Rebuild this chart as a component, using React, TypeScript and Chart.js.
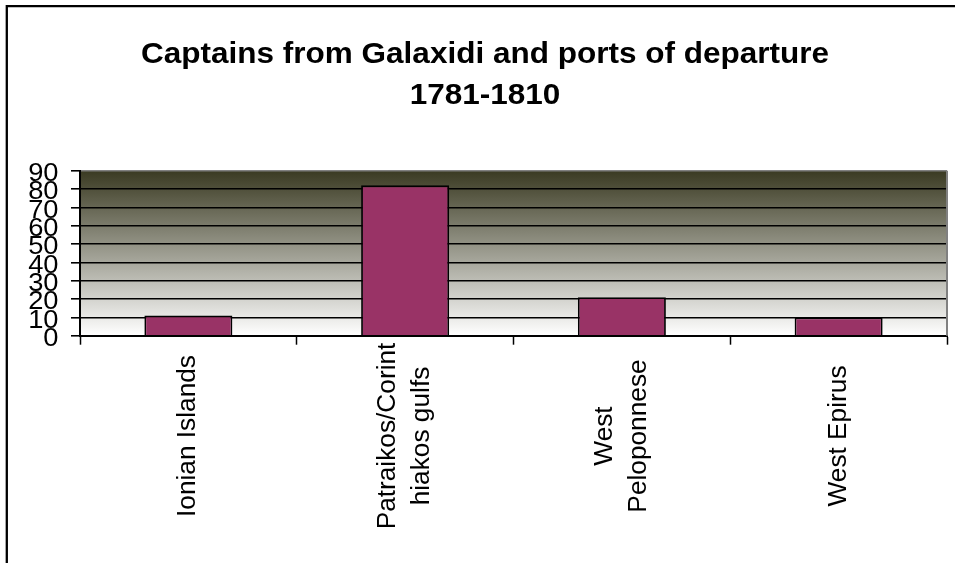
import React, { useEffect, useRef } from 'react';
import { Chart, registerables } from 'chart.js';

Chart.register(...registerables);

const TITLE_LINES = ['Captains from Galaxidi and ports of departure', '1781-1810'];
const CATEGORIES: string[][] = [
  ['Ionian Islands'],
  ['Patraikos/Corint', 'hiakos gulfs'],
  ['West', 'Peloponnese'],
  ['West Epirus'],
];
const CAPTAINS = [11, 82, 21, 10];
const Y_TICKS = [0, 10, 20, 30, 40, 50, 60, 70, 80, 90];

const FONT = '"Liberation Sans", Arial, Helvetica, sans-serif';

const decorPlugin = {
  id: 'decor',
  beforeDraw(chart: any) {
    const { ctx, chartArea: a } = chart;
    ctx.save();
    ctx.fillStyle = '#ffffff';
    ctx.fillRect(0, 0, chart.width, chart.height);
    const g = ctx.createLinearGradient(0, a.top, 0, a.bottom);
    g.addColorStop(0, '#3a3a22');
    g.addColorStop(1, '#ffffff');
    ctx.fillStyle = g;
    ctx.fillRect(a.left, a.top, a.right - a.left, a.bottom - a.top);
    ctx.restore();
  },
  afterDraw(chart: any) {
    const { ctx, chartArea: a, scales } = chart;
    const xs = scales.x;
    const ys = scales.y;
    ctx.save();
    // right plot border
    ctx.strokeStyle = '#808080';
    ctx.lineWidth = 2;
    ctx.beginPath();
    ctx.moveTo(a.right, a.top);
    ctx.lineTo(a.right, a.bottom);
    ctx.stroke();
    // outer frame (top and left visible)
    ctx.strokeStyle = '#000000';
    ctx.lineWidth = 2.3;
    ctx.beginPath();
    ctx.moveTo(6.8, chart.height);
    ctx.lineTo(6.8, 6.2);
    ctx.lineTo(chart.width, 6.2);
    ctx.stroke();

    ctx.fillStyle = '#000000';
    // title
    ctx.font = `bold 30px ${FONT}`;
    ctx.textAlign = 'center';
    ctx.textBaseline = 'alphabetic';
    TITLE_LINES.forEach((t, i) => {
      ctx.save();
      ctx.translate(485, 63 + i * 41);
      ctx.scale(1.05, 1);
      ctx.fillText(t, 0, 0);
      ctx.restore();
    });

    // y labels
    ctx.font = `26px ${FONT}`;
    ctx.textAlign = 'right';
    ctx.textBaseline = 'alphabetic';
    Y_TICKS.forEach((v) => {
      const py = ys.getPixelForValue(v);
      ctx.save();
      ctx.translate(58.5, py + 10.3);
      ctx.scale(1.05, 1);
      ctx.fillText(String(v), 0, 0);
      ctx.restore();
    });

    // x labels (rotated)
    ctx.font = `25px ${FONT}`;
    ctx.textAlign = 'center';
    ctx.textBaseline = 'middle';
    (chart.data.labels as string[][]).forEach((lines, i) => {
      const cx = xs.getPixelForValue(i);
      lines.forEach((line, j) => {
        ctx.save();
        ctx.translate(cx + (j - (lines.length - 1) / 2) * 34, 436);
        ctx.rotate(-Math.PI / 2);
        ctx.scale(1.05, 1);
        ctx.fillText(line, 0, 0);
        ctx.restore();
      });
    });
    ctx.restore();
  },
};

export default function App() {
  const ref = useRef<HTMLCanvasElement | null>(null);

  useEffect(() => {
    if (!ref.current) return;
    const chart = new Chart(ref.current, {
      type: 'bar',
      data: {
        labels: CATEGORIES as any,
        datasets: [
          {
            data: CAPTAINS,
            backgroundColor: '#993366',
            borderColor: '#000000',
            borderWidth: 1.8,
            categoryPercentage: 1,
            barPercentage: 0.406,
          },
        ],
      },
      options: {
        responsive: false,
        animation: false,
        devicePixelRatio: 1,
        layout: { padding: { top: 170.7, left: 0, right: 8, bottom: 0 } },
        plugins: {
          legend: { display: false },
          title: { display: false },
          tooltip: { enabled: false },
        },
        scales: {
          x: {
            ticks: { display: false },
            grid: {
              drawOnChartArea: false,
              drawTicks: true,
              tickLength: 9,
              tickColor: '#000000',
              tickWidth: 1.5,
              offset: true,
            },
            border: { color: '#000000', width: 2 },
            afterFit: (s: any) => {
              s.height = 227.3;
            },
          },
          y: {
            min: Y_TICKS[0],
            max: Y_TICKS[Y_TICKS.length - 1],
            ticks: { display: false, stepSize: Y_TICKS[1] - Y_TICKS[0] },
            grid: {
              color: (c: any) => (c.tick && c.tick.value === Y_TICKS[Y_TICKS.length - 1] ? '#808080' : '#000000'),
              lineWidth: 1.6,
              drawTicks: true,
              tickLength: 9,
              tickColor: '#000000',
              tickWidth: 1.6,
            },
            border: { color: '#000000', width: 2 },
            afterFit: (s: any) => {
              s.width = 80;
            },
          },
        },
      },
      plugins: [decorPlugin],
    });
    return () => chart.destroy();
  }, []);

  return (
    <div style={{ position: 'fixed', left: 0, top: 0, width: 955, height: 563, background: '#fff' }}>
      <canvas ref={ref} width={955} height={563} style={{ display: 'block' }} />
    </div>
  );
}
